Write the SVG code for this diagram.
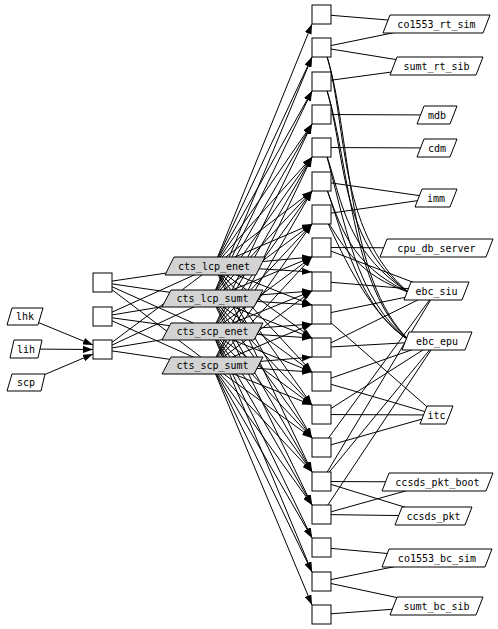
<svg xmlns="http://www.w3.org/2000/svg" width="498" height="629" viewBox="0 0 498 629">
<style>
.b{fill:#fff;stroke:#000;stroke-width:1}
.g{fill:#d3d3d3;stroke:#000;stroke-width:1}
.w{fill:#fff;stroke:#000;stroke-width:1}
.t{font-family:"DejaVu Sans Mono","Liberation Mono",monospace;font-size:10px;text-anchor:middle;fill:#000}
.e{stroke:#000;stroke-width:1;fill:none}
.a{stroke:#000;stroke-width:1;fill:none;marker-end:url(#ah)}
</style>
<defs>
<marker id="ah" markerUnits="userSpaceOnUse" viewBox="0 0 10 7" refX="10" refY="3.5" markerWidth="10" markerHeight="7" orient="auto">
<path d="M0,0 L10,3.5 L0,7 z" fill="#000"/>
</marker>
</defs>
<rect width="498" height="629" fill="#fff"/>
<g id="connectors">
<!-- left labels to box C -->
<line class="a" x1="25" y1="317" x2="93" y2="345"/>
<line class="a" x1="26" y1="349" x2="93" y2="349.5"/>
<line class="a" x1="26" y1="382.5" x2="93" y2="354"/>
<!-- left boxes to cts labels -->
<line class="e" x1="102.5" y1="282.5" x2="214" y2="266"/>
<line class="e" x1="102.5" y1="282.5" x2="212" y2="298.5"/>
<line class="e" x1="102.5" y1="282.5" x2="212" y2="331.5"/>
<line class="e" x1="102.5" y1="282.5" x2="212" y2="365.5"/>
<line class="e" x1="102.5" y1="316.5" x2="214" y2="266"/>
<line class="e" x1="102.5" y1="316.5" x2="212" y2="298.5"/>
<line class="e" x1="102.5" y1="316.5" x2="212" y2="331.5"/>
<line class="e" x1="102.5" y1="316.5" x2="212" y2="365.5"/>
<line class="e" x1="102.5" y1="349.5" x2="214" y2="266"/>
<line class="e" x1="102.5" y1="349.5" x2="212" y2="298.5"/>
<line class="e" x1="102.5" y1="349.5" x2="212" y2="331.5"/>
<line class="e" x1="102.5" y1="349.5" x2="212" y2="365.5"/>
<!-- cts_lcp_enet -->
<line class="a" x1="214" y1="266" x2="312" y2="24"/>
<line class="a" x1="214" y1="266" x2="312" y2="57"/>
<line class="a" x1="214" y1="266" x2="312" y2="91"/>
<line class="a" x1="214" y1="266" x2="312" y2="124"/>
<line class="a" x1="214" y1="266" x2="312" y2="157"/>
<line class="a" x1="214" y1="266" x2="312" y2="191"/>
<line class="a" x1="214" y1="266" x2="312" y2="224"/>
<line class="a" x1="214" y1="266" x2="312" y2="257"/>
<line class="a" x1="214" y1="266" x2="312" y2="272"/>
<line class="a" x1="214" y1="266" x2="312" y2="305"/>
<line class="a" x1="214" y1="266" x2="312" y2="338"/>
<line class="a" x1="214" y1="266" x2="312" y2="372"/>
<line class="a" x1="214" y1="266" x2="312" y2="405"/>
<line class="a" x1="214" y1="266" x2="312" y2="438"/>
<line class="a" x1="214" y1="266" x2="312" y2="472"/>
<!-- cts_lcp_sumt -->
<line class="a" x1="212" y1="298.5" x2="312" y2="57"/>
<line class="a" x1="212" y1="298.5" x2="312" y2="91"/>
<line class="a" x1="212" y1="298.5" x2="312" y2="124"/>
<line class="a" x1="212" y1="298.5" x2="312" y2="157"/>
<line class="a" x1="212" y1="298.5" x2="312" y2="191"/>
<line class="a" x1="212" y1="298.5" x2="312" y2="224"/>
<line class="a" x1="212" y1="298.5" x2="312" y2="257"/>
<line class="a" x1="212" y1="298.5" x2="312" y2="291"/>
<line class="a" x1="212" y1="298.5" x2="312" y2="305"/>
<line class="a" x1="212" y1="298.5" x2="312" y2="338"/>
<line class="a" x1="212" y1="298.5" x2="312" y2="372"/>
<line class="a" x1="212" y1="298.5" x2="312" y2="405"/>
<line class="a" x1="212" y1="298.5" x2="312" y2="438"/>
<line class="a" x1="212" y1="298.5" x2="312" y2="472"/>
<line class="a" x1="212" y1="298.5" x2="312" y2="505"/>
<!-- cts_scp_enet -->
<line class="a" x1="212" y1="331.5" x2="312" y2="124"/>
<line class="a" x1="212" y1="331.5" x2="312" y2="157"/>
<line class="a" x1="212" y1="331.5" x2="312" y2="191"/>
<line class="a" x1="212" y1="331.5" x2="312" y2="224"/>
<line class="a" x1="212" y1="331.5" x2="312" y2="257"/>
<line class="a" x1="212" y1="331.5" x2="312" y2="291"/>
<line class="a" x1="212" y1="331.5" x2="312" y2="324"/>
<line class="a" x1="212" y1="331.5" x2="312" y2="338"/>
<line class="a" x1="212" y1="331.5" x2="312" y2="372"/>
<line class="a" x1="212" y1="331.5" x2="312" y2="405"/>
<line class="a" x1="212" y1="331.5" x2="312" y2="438"/>
<line class="a" x1="212" y1="331.5" x2="312" y2="472"/>
<line class="a" x1="212" y1="331.5" x2="312" y2="505"/>
<line class="a" x1="212" y1="331.5" x2="312" y2="538"/>
<line class="a" x1="212" y1="331.5" x2="312" y2="572"/>
<!-- cts_scp_sumt -->
<line class="a" x1="212" y1="365.5" x2="312" y2="157"/>
<line class="a" x1="212" y1="365.5" x2="312" y2="191"/>
<line class="a" x1="212" y1="365.5" x2="312" y2="224"/>
<line class="a" x1="212" y1="365.5" x2="312" y2="257"/>
<line class="a" x1="212" y1="365.5" x2="312" y2="291"/>
<line class="a" x1="212" y1="365.5" x2="312" y2="324"/>
<line class="a" x1="212" y1="365.5" x2="312" y2="357"/>
<line class="a" x1="212" y1="365.5" x2="312" y2="372"/>
<line class="a" x1="212" y1="365.5" x2="312" y2="405"/>
<line class="a" x1="212" y1="365.5" x2="312" y2="438"/>
<line class="a" x1="212" y1="365.5" x2="312" y2="472"/>
<line class="a" x1="212" y1="365.5" x2="312" y2="505"/>
<line class="a" x1="212" y1="365.5" x2="312" y2="538"/>
<line class="a" x1="212" y1="365.5" x2="312" y2="572"/>
<line class="a" x1="212" y1="365.5" x2="312" y2="605"/>
<!-- boxes to right labels -->
<line class="e" x1="321.5" y1="14.5" x2="436" y2="24"/>
<line class="e" x1="321.5" y1="47.5" x2="436" y2="24"/>
<line class="e" x1="321.5" y1="47.5" x2="436" y2="66"/>
<line class="e" x1="321.5" y1="81.5" x2="436" y2="66"/>
<line class="e" x1="321.5" y1="114.5" x2="437" y2="115"/>
<line class="e" x1="321.5" y1="147.5" x2="437" y2="148"/>
<line class="e" x1="321.5" y1="181.5" x2="436" y2="198"/>
<line class="e" x1="321.5" y1="214.5" x2="436" y2="198"/>
<line class="e" x1="321.5" y1="247.5" x2="436" y2="248"/>
<line class="e" x1="321.5" y1="247.5" x2="436" y2="291"/>
<line class="e" x1="321.5" y1="281.5" x2="436" y2="291"/>
<line class="e" x1="321.5" y1="314.5" x2="436" y2="291"/>
<line class="e" x1="321.5" y1="347.5" x2="436" y2="291"/>
<line class="e" x1="321.5" y1="347.5" x2="437" y2="341"/>
<line class="e" x1="321.5" y1="381.5" x2="437" y2="341"/>
<line class="e" x1="321.5" y1="414.5" x2="437" y2="341"/>
<line class="e" x1="321.5" y1="314.5" x2="436.5" y2="415"/>
<line class="e" x1="321.5" y1="381.5" x2="436.5" y2="415"/>
<line class="e" x1="321.5" y1="414.5" x2="436.5" y2="415"/>
<line class="e" x1="321.5" y1="447.5" x2="436.5" y2="415"/>
<line class="e" x1="321.5" y1="447.5" x2="436" y2="291"/>
<line class="e" x1="321.5" y1="481.5" x2="436" y2="291"/>
<line class="e" x1="321.5" y1="481.5" x2="437" y2="341"/>
<line class="e" x1="321.5" y1="514.5" x2="437" y2="341"/>
<line class="e" x1="321.5" y1="481.5" x2="437.5" y2="482"/>
<line class="e" x1="321.5" y1="514.5" x2="437.5" y2="482"/>
<line class="e" x1="321.5" y1="481.5" x2="433.5" y2="516"/>
<line class="e" x1="321.5" y1="514.5" x2="433.5" y2="516"/>
<line class="e" x1="321.5" y1="547.5" x2="437" y2="558"/>
<line class="e" x1="321.5" y1="581.5" x2="437" y2="558"/>
<line class="e" x1="321.5" y1="581.5" x2="436.5" y2="606"/>
<line class="e" x1="321.5" y1="614.5" x2="436.5" y2="606"/>
<!-- curved edges to ebc_siu -->
<path class="e" d="M325,50 C348,120 336,230 408,292"/>
<path class="e" d="M325,84 C346,150 338,240 408,292"/>
<path class="e" d="M325,150 C342,200 345,250 408,292"/>
<path class="e" d="M325,184 C340,225 350,265 408,292"/>
<path class="e" d="M325,217 C345,250 360,275 408,292"/>
<!-- curved edges to ebc_epu -->
<path class="e" d="M325,50 C352,130 345,280 410,341"/>
<path class="e" d="M325,84 C350,160 350,290 410,341"/>
<path class="e" d="M325,150 C345,220 355,300 410,341"/>
<path class="e" d="M325,184 C345,240 360,310 410,341"/>
<path class="e" d="M325,217 C345,260 370,315 410,341"/>
</g>
<g id="lhk"><polygon class="w" points="12,308 43,308 38,325 7,325"/><text class="t" x="25" y="320">lhk</text></g>
<g id="lih"><polygon class="w" points="14,340 42,340 38,358 10,358"/><text class="t" x="26" y="352.5">lih</text></g>
<g id="scp"><polygon class="w" points="12,374 45,374 41,391 7,391"/><text class="t" x="26" y="386">scp</text></g>
<g id="boxA"><rect class="b" x="93" y="273" width="19" height="19"/></g>
<g id="boxB"><rect class="b" x="93" y="307" width="19" height="19"/></g>
<g id="boxC"><rect class="b" x="93" y="340" width="19" height="19"/></g>
<g id="cts_lcp_enet"><polygon class="g" points="174,257 265,257 256,275 165,275"/><text class="t" x="214" y="269.5">cts_lcp_enet</text></g>
<g id="cts_lcp_sumt"><polygon class="g" points="171,290 263,290 254,307 162,307"/><text class="t" x="212.5" y="302">cts_lcp_sumt</text></g>
<g id="cts_scp_enet"><polygon class="g" points="171,323 263,323 254,340 162,340"/><text class="t" x="212.5" y="335">cts_scp_enet</text></g>
<g id="cts_scp_sumt"><polygon class="g" points="171,357 263,357 254,374 162,374"/><text class="t" x="212.5" y="369">cts_scp_sumt</text></g>
<g id="b0"><rect class="b" x="312" y="5" width="19" height="19"/></g>
<g id="b1"><rect class="b" x="312" y="38" width="19" height="19"/></g>
<g id="b2"><rect class="b" x="312" y="72" width="19" height="19"/></g>
<g id="b3"><rect class="b" x="312" y="105" width="19" height="19"/></g>
<g id="b4"><rect class="b" x="312" y="138" width="19" height="19"/></g>
<g id="b5"><rect class="b" x="312" y="172" width="19" height="19"/></g>
<g id="b6"><rect class="b" x="312" y="205" width="19" height="19"/></g>
<g id="b7"><rect class="b" x="312" y="238" width="19" height="19"/></g>
<g id="b8"><rect class="b" x="312" y="272" width="19" height="19"/></g>
<g id="b9"><rect class="b" x="312" y="305" width="19" height="19"/></g>
<g id="b10"><rect class="b" x="312" y="338" width="19" height="19"/></g>
<g id="b11"><rect class="b" x="312" y="372" width="19" height="19"/></g>
<g id="b12"><rect class="b" x="312" y="405" width="19" height="19"/></g>
<g id="b13"><rect class="b" x="312" y="438" width="19" height="19"/></g>
<g id="b14"><rect class="b" x="312" y="472" width="19" height="19"/></g>
<g id="b15"><rect class="b" x="312" y="505" width="19" height="19"/></g>
<g id="b16"><rect class="b" x="312" y="538" width="19" height="19"/></g>
<g id="b17"><rect class="b" x="312" y="572" width="19" height="19"/></g>
<g id="b18"><rect class="b" x="312" y="605" width="19" height="19"/></g>
<g id="co1553_rt_sim"><polygon class="w" points="390,15 490,15 483,33 383,33"/><text class="t" x="436.5" y="27.5">co1553_rt_sim</text></g>
<g id="sumt_rt_sib"><polygon class="w" points="397,57 483,57 476,75 390,75"/><text class="t" x="436.5" y="69.5">sumt_rt_sib</text></g>
<g id="mdb"><polygon class="w" points="424,106 457,106 450,124 417,124"/><text class="t" x="437" y="118.5">mdb</text></g>
<g id="cdm"><polygon class="w" points="424,139 457,139 450,157 417,157"/><text class="t" x="437" y="151.5">cdm</text></g>
<g id="imm"><polygon class="w" points="422,189 457,189 450,207 415,207"/><text class="t" x="436" y="201.5">imm</text></g>
<g id="cpu_db_server"><polygon class="w" points="387,239 493,239 486,257 380,257"/><text class="t" x="436.5" y="251.5">cpu_db_server</text></g>
<g id="ebc_siu"><polygon class="w" points="411,282 469,282 462,300 404,300"/><text class="t" x="436.5" y="294.5">ebc_siu</text></g>
<g id="ebc_epu"><polygon class="w" points="409,332 472,332 465,350 402,350"/><text class="t" x="437" y="344.5">ebc_epu</text></g>
<g id="itc"><polygon class="w" points="427,406 453,406 446,424 420,424"/><text class="t" x="436.5" y="418.5">itc</text></g>
<g id="ccsds_pkt_boot"><polygon class="w" points="389,473 493,473 486,491 382,491"/><text class="t" x="437.5" y="485.5">ccsds_pkt_boot</text></g>
<g id="ccsds_pkt"><polygon class="w" points="402,507 472,507 465,525 395,525"/><text class="t" x="433.5" y="519.5">ccsds_pkt</text></g>
<g id="co1553_bc_sim"><polygon class="w" points="389,549 492,549 485,567 382,567"/><text class="t" x="437" y="561.5">co1553_bc_sim</text></g>
<g id="sumt_bc_sib"><polygon class="w" points="397,597 483,597 476,615 390,615"/><text class="t" x="436.5" y="609.5">sumt_bc_sib</text></g>
</svg>
